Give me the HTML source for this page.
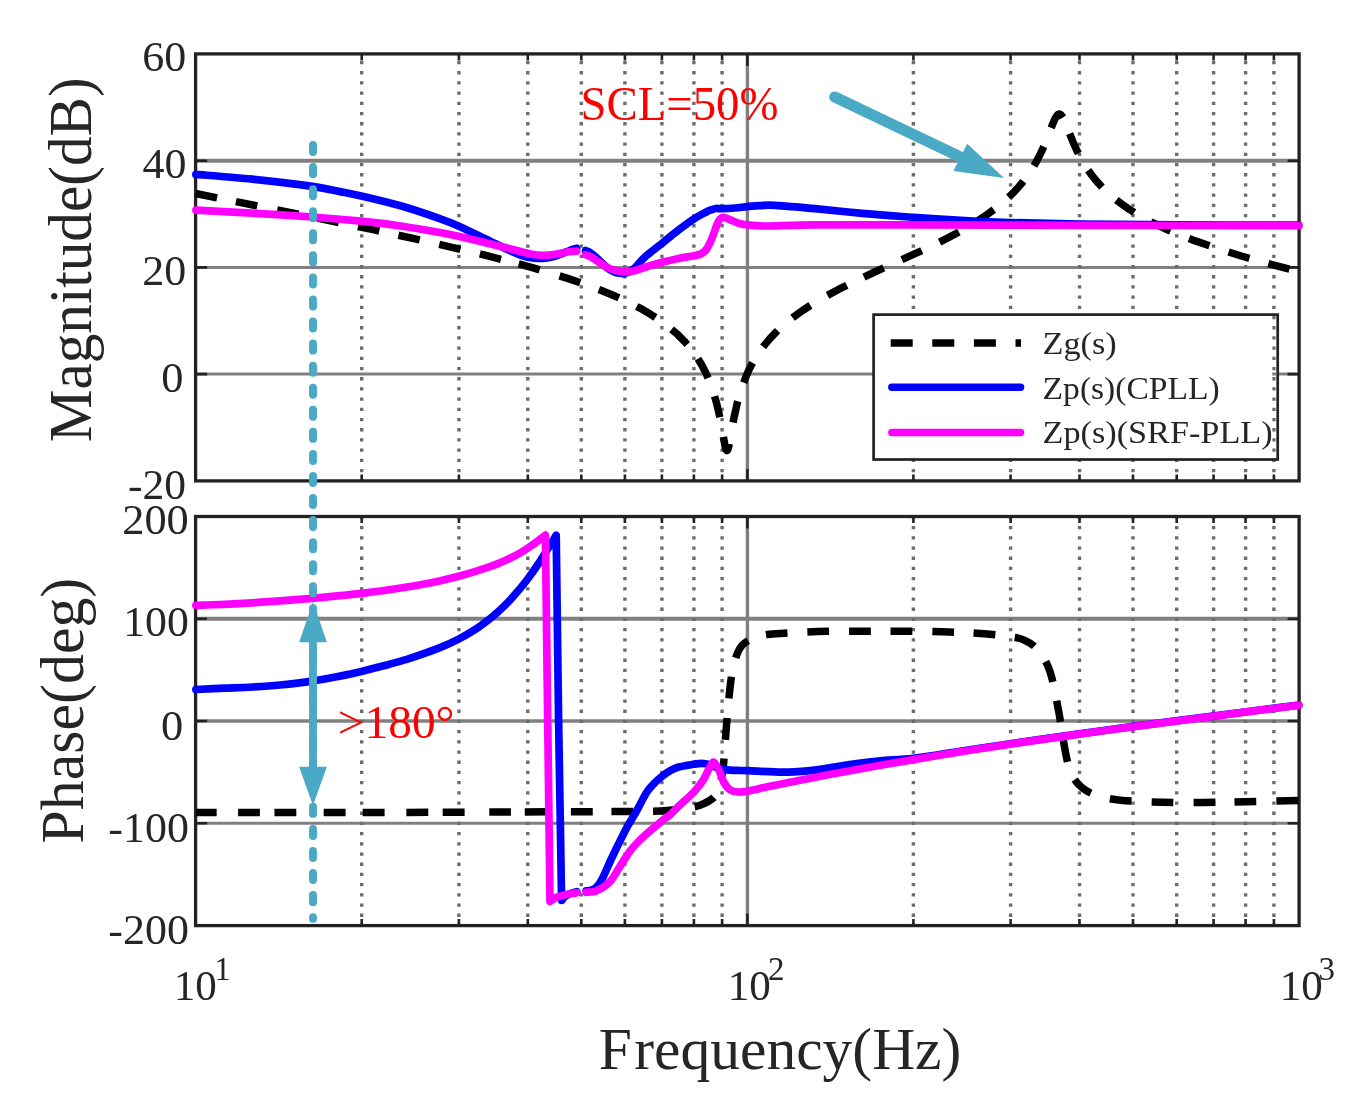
<!DOCTYPE html>
<html lang="en"><head><meta charset="utf-8"><title>Bode plot</title>
<style>html,body{margin:0;padding:0;background:#fff}svg{display:block}</style></head>
<body>
<svg width="1362" height="1109" viewBox="0 0 1362 1109" font-family="'Liberation Serif', serif">
<rect width="1362" height="1109" fill="#fff"/>
<line x1="195.6" y1="160.7" x2="1299.1" y2="160.7" stroke="#808080" stroke-width="3.9"/>
<line x1="195.6" y1="267.4" x2="1299.1" y2="267.4" stroke="#808080" stroke-width="3.0"/>
<line x1="195.6" y1="374.1" x2="1299.1" y2="374.1" stroke="#808080" stroke-width="3.0"/>
<line x1="747.4" y1="53.9" x2="747.4" y2="480.9" stroke="#808080" stroke-width="3.4"/>
<path d="M361.7 53.9V480.9M458.9 53.9V480.9M527.8 53.9V480.9M581.3 53.9V480.9M624.9 53.9V480.9M661.9 53.9V480.9M693.9 53.9V480.9M722.1 53.9V480.9M913.4 53.9V480.9M1010.6 53.9V480.9M1079.5 53.9V480.9M1133 53.9V480.9M1176.7 53.9V480.9M1213.6 53.9V480.9M1245.6 53.9V480.9M1273.9 53.9V480.9" stroke="#6c6c6c" stroke-width="3.4" stroke-dasharray="3.3 6.9" stroke-dashoffset="-7" fill="none"/>
<line x1="195.6" y1="618.8" x2="1299.1" y2="618.8" stroke="#808080" stroke-width="3.9"/>
<line x1="195.6" y1="721" x2="1299.1" y2="721" stroke="#808080" stroke-width="3.5"/>
<line x1="195.6" y1="823.3" x2="1299.1" y2="823.3" stroke="#808080" stroke-width="2.9"/>
<line x1="747.4" y1="516.5" x2="747.4" y2="925.6" stroke="#808080" stroke-width="3.4"/>
<path d="M361.7 516.5V925.6M458.9 516.5V925.6M527.8 516.5V925.6M581.3 516.5V925.6M624.9 516.5V925.6M661.9 516.5V925.6M693.9 516.5V925.6M722.1 516.5V925.6M913.4 516.5V925.6M1010.6 516.5V925.6M1079.5 516.5V925.6M1133 516.5V925.6M1176.7 516.5V925.6M1213.6 516.5V925.6M1245.6 516.5V925.6M1273.9 516.5V925.6" stroke="#6c6c6c" stroke-width="3.4" stroke-dasharray="3.3 6.9" stroke-dashoffset="-9.5" fill="none"/>
<rect x="195.6" y="53.9" width="1103.5" height="427" fill="none" stroke="#222222" stroke-width="3.3"/>
<path d="M361.7 53.9v6.5M361.7 480.9v-6.5M458.9 53.9v6.5M458.9 480.9v-6.5M527.8 53.9v6.5M527.8 480.9v-6.5M581.3 53.9v6.5M581.3 480.9v-6.5M624.9 53.9v6.5M624.9 480.9v-6.5M661.9 53.9v6.5M661.9 480.9v-6.5M693.9 53.9v6.5M693.9 480.9v-6.5M722.1 53.9v6.5M722.1 480.9v-6.5M913.4 53.9v6.5M913.4 480.9v-6.5M1010.6 53.9v6.5M1010.6 480.9v-6.5M1079.5 53.9v6.5M1079.5 480.9v-6.5M1133 53.9v6.5M1133 480.9v-6.5M1176.7 53.9v6.5M1176.7 480.9v-6.5M1213.6 53.9v6.5M1213.6 480.9v-6.5M1245.6 53.9v6.5M1245.6 480.9v-6.5M1273.9 53.9v6.5M1273.9 480.9v-6.5" stroke="#222222" stroke-width="2.6" fill="none"/>
<path d="M747.4 53.9v12M747.4 480.9v-12M195.6 160.7h11.5M1299.1 160.7h-11.5M195.6 267.4h11.5M1299.1 267.4h-11.5M195.6 374.1h11.5M1299.1 374.1h-11.5" stroke="#222222" stroke-width="2.6" fill="none"/>
<rect x="195.6" y="516.5" width="1103.5" height="409.1" fill="none" stroke="#222222" stroke-width="3.3"/>
<path d="M361.7 516.5v6.5M361.7 925.6v-6.5M458.9 516.5v6.5M458.9 925.6v-6.5M527.8 516.5v6.5M527.8 925.6v-6.5M581.3 516.5v6.5M581.3 925.6v-6.5M624.9 516.5v6.5M624.9 925.6v-6.5M661.9 516.5v6.5M661.9 925.6v-6.5M693.9 516.5v6.5M693.9 925.6v-6.5M722.1 516.5v6.5M722.1 925.6v-6.5M913.4 516.5v6.5M913.4 925.6v-6.5M1010.6 516.5v6.5M1010.6 925.6v-6.5M1079.5 516.5v6.5M1079.5 925.6v-6.5M1133 516.5v6.5M1133 925.6v-6.5M1176.7 516.5v6.5M1176.7 925.6v-6.5M1213.6 516.5v6.5M1213.6 925.6v-6.5M1245.6 516.5v6.5M1245.6 925.6v-6.5M1273.9 516.5v6.5M1273.9 925.6v-6.5" stroke="#222222" stroke-width="2.6" fill="none"/>
<path d="M747.4 516.5v12M747.4 925.6v-12M195.6 618.8h11.5M1299.1 618.8h-11.5M195.6 721h11.5M1299.1 721h-11.5M195.6 823.3h11.5M1299.1 823.3h-11.5" stroke="#222222" stroke-width="2.6" fill="none"/>
<g fill="none" stroke-linejoin="round">
<path d="M195.6 193.5 L295.9 213.6 L373.1 229.7 L435.9 243.5 L463.1 249.9 L487.9 255.9 L511.1 261.9 L532.4 267.7 L551.9 273.5 L569.9 279.2 L586.4 284.8 L601.4 290.5 L615.4 296.3 L628.1 302.1 L639.9 308.1 L650.6 314.3 L660.4 320.7 L669.1 327.2 L677.1 334 L684.4 341.3 L690.9 348.8 L696.9 357.1 L701.9 365.3 L706.1 373.5 L709.9 382.3 L713.4 392.2 L716.4 402.5 L718.9 413 L720.9 422.9 L725.1 446.3 L726.1 449.7 L726.9 450.6 L727.4 450.4 L727.9 449.4 L728.9 445.7 L733.9 418.1 L737.4 402.5 L741.1 389.6 L745.4 378 L748.1 371.7 L751.1 365.6 L754.4 359.8 L757.9 354.2 L761.6 348.8 L765.9 343.3 L770.1 338.3 L774.9 333.3 L779.6 328.7 L784.9 324 L790.4 319.5 L796.4 314.9 L802.6 310.5 L809.4 306 L824.1 297.2 L838.9 289.2 L855.9 280.8 L873.6 272.5 L921.9 250.6 L936.1 243.8 L948.4 237.6 L961.9 230.4 L974.1 223.2 L985.1 216 L995.1 208.7 L1005.4 200.2 L1010.1 195.8 L1014.6 191.3 L1018.6 186.9 L1022.6 182.2 L1026.3 177.3 L1029.8 172.3 L1033.1 167.3 L1036.1 162.2 L1041.6 151.4 L1045.8 141.7 L1052.8 123.8 L1055.1 118.6 L1057.1 115.4 L1058.1 114.4 L1058.8 114.1 L1059.8 114.1 L1060.8 114.7 L1061.8 115.9 L1063.1 117.9 L1065.6 123.4 L1073.1 142.2 L1077.6 152.1 L1080.6 157.8 L1083.8 163.5 L1087.3 169 L1090.8 173.9 L1094.8 179 L1098.8 183.7 L1103.1 188.2 L1107.8 192.7 L1112.6 196.9 L1117.8 201.1 L1123.3 205.2 L1129.3 209.3 L1136.1 213.6 L1143.1 217.6 L1150.6 221.6 L1158.6 225.6 L1167.1 229.5 L1175.8 233.3 L1195.3 240.9 L1217.1 248.4 L1241.3 256 L1268.6 263.7 L1299.1 271.6" stroke="#000" stroke-width="7.5" stroke-dasharray="21.9 19.2 21.8 20.3 21.8 19.3 21.8 19.6 21.8 19.6 21.8 20 21.8 19.9 21.8 18.3 21.8 20.8 21.8 19.8 21.8 19.7 21.8 20 21.8 17.9 21.8 19.3 21.8 19.8 21.8 21.6 21.8 19.5 21.8 19.1 21.8 19.7 21.8 19.8 21.8 19 21.8 19.9 21.8 19.8 21.8 19.7 21.8 19.3 21.8 18.7 21.8 19.9 21.8 17.4 21.8 19.4 21.8 19.3 21.8 19.1 21.8 19.8 21.8 20 21.8 19.7 21.8 5000"/>
<path d="M196 812.6C230 812.6 332.7 812.6 400 812.4C467.3 812.2 556.7 811.8 600 811.6C643.3 811.4 644.3 811.8 660 811C675.7 810.2 686.8 808.1 694.3 806.8C701.8 805.5 701.8 804.5 705 803C708.2 801.5 711.5 799.8 713.8 797.5C716.1 795.2 717.6 792.8 719 789C720.4 785.2 721.2 779.5 722 775C722.8 770.5 723 769.9 723.7 762.3C724.4 754.6 725.2 741.5 726.2 729.1C727.2 716.7 728.8 698.4 730 687.9C731.2 677.4 731.9 672.6 733.5 666C735.1 659.4 737.1 652.6 739.9 648.2C742.6 643.8 746.3 641.6 750 639.5C753.7 637.4 757.6 636.5 762 635.5C766.4 634.5 767.1 634.4 776.4 633.7C785.7 633 803.9 631.9 817.8 631.5C831.6 631.1 845.6 631.2 859.5 631.2C873.4 631.2 887.1 631.1 901 631.2C914.9 631.3 929 631.4 942.8 631.8C956.6 632.2 972.8 632.9 984 633.7C995.2 634.5 1003.2 635.4 1010 636.5C1016.8 637.6 1020.1 638.1 1024.8 640.4C1029.5 642.6 1033.8 644.9 1038 650C1042.2 655.1 1046.5 661.1 1049.9 671.2C1053.3 681.4 1056 697.6 1058.6 710.9C1061.1 724.2 1063.1 740.4 1065.2 750.8C1067.3 761.1 1068.3 766.9 1071 773C1073.7 779.1 1077.3 783.5 1081.6 787.3C1085.9 791 1090.5 793.4 1097 795.5C1103.5 797.6 1109.6 799.1 1120.4 800.2C1131.2 801.3 1148.1 801.9 1162 802.3C1175.9 802.7 1190.2 802.6 1204 802.5C1217.8 802.4 1229.2 802.1 1245 801.8C1260.8 801.5 1290 800.8 1299 800.6" stroke="#000" stroke-width="7.5" stroke-dasharray="20.8 21.4 21.8 14.7 21.8 27.3 21.8 16.9 21.8 22.2 21.8 14.5 21.8 24.5 21.8 13.7 21.8 24.5 21.8 18.6 21.8 20 21.8 20 21.8 19.1 21.8 18.7 21.8 19.6 21.8 19.4 21.8 18.9 21.8 19.7 21.8 19.9 21.8 19.7 21.8 20 21.8 19.4 21.8 19.7 21.8 19.1 21.8 18.9 21.8 18.6 21.8 19.1 21.8 19.7 21.8 19.9 21.8 20.2 21.8 19.2 21.8 20 21.8 5000"/>
<path d="M195.9 174.4C205.3 175.2 233 177.2 252.4 179.2C271.8 181.2 297.7 184.3 312.3 186.4C326.9 188.5 331.8 190 340 191.6C348.2 193.2 350.9 193.6 361.3 196C371.7 198.4 389.1 202.5 402.2 206.3C415.3 210.1 430.3 215.3 439.7 218.6C449.1 221.9 450.1 222.3 458.4 226C466.7 229.7 480.3 236.5 489.7 241C499.1 245.5 508.4 250.1 514.7 252.8C521 255.5 523 256.3 527.7 257.2C532.4 258.1 538.4 258.5 542.9 258.4C547.4 258.2 551 257.4 555 256.3C559 255.2 564 252.8 567 251.6C570 250.4 571.4 249.8 573 249.2C574.6 248.6 576 248.5 576.6 248.3" stroke="#0000ff" stroke-width="7.7" stroke-linecap="round"/>
<path d="M585.6 250.6C586.4 251 588.2 251.3 590.5 252.9C592.8 254.5 596.4 257.7 599.3 260.3C602.2 262.9 605.8 266.7 608.1 268.6C610.5 270.5 611.7 270.8 613.4 271.5C615.1 272.2 616.5 272.8 618.5 273.1C620.5 273.4 622.7 274 625.4 273.2C628.1 272.4 631.4 270.9 634.5 268.3C637.6 265.7 639.7 261.8 644.3 257.6C648.9 253.5 656.3 247.9 661.9 243.4C667.5 238.9 672.4 234.7 677.7 230.6C683 226.5 689.1 222 693.9 218.9C698.7 215.8 703.3 213.6 706.3 212C709.3 210.4 710.4 210.2 712 209.6C713.6 209 714.2 208.7 715.9 208.5C717.6 208.3 719.1 208.8 722.3 208.7C725.5 208.6 730.8 208.3 735 208C739.2 207.7 743.2 207 747.4 206.6C751.6 206.2 755.4 205.8 760 205.6C764.6 205.4 765.9 204.8 775 205.3C784.1 205.8 799.9 207.2 814.9 208.6C829.9 210 848.4 212.1 864.8 213.6C881.2 215.1 896.9 216.1 913.5 217.3C930.1 218.5 948.6 219.7 964.7 220.6C980.8 221.5 991.1 222 1010.3 222.6C1029.5 223.2 1051.7 223.6 1080 224C1108.3 224.4 1143.5 224.6 1180 224.8C1216.5 225 1279 225.1 1298.8 225.2" stroke="#0000ff" stroke-width="7.7" stroke-linecap="round"/>
<path d="M195.9 689.5C200.8 689.3 215.6 688.6 225 688.2C234.4 687.8 243.2 687.5 252.4 687C261.6 686.5 270 686 280 685C290 684 302.3 682.6 312.3 681.1C322.3 679.6 331.8 677.7 340 676.1C348.2 674.5 353.2 673.4 361.4 671.4C369.5 669.4 380.6 666.6 388.9 664.4C397.2 662.1 402.9 660.6 411.3 657.9C419.7 655.1 431.5 651 439.4 647.9C447.3 644.8 452.6 642.2 458.6 639.1C464.6 636 470.3 632.7 475.5 629.3C480.7 625.9 485.8 621.9 489.9 618.7C494 615.5 497.1 612.6 500 610C502.9 607.4 504.7 605.6 507.1 603.1C509.5 600.6 511.1 599.1 514.5 595.1C517.9 591.1 523.5 584.5 527.5 579.2C531.5 573.9 535.1 568.7 538.6 563.5C542.1 558.3 545.6 552.5 548.5 547.8C551.4 543.1 554.9 537.3 556.2 535.2 L558.6 720 L561.6 900.5 L561.6 900.5C562.2 899.8 563.6 897.6 565 896.5C566.4 895.4 567.9 894.5 569.9 893.7C571.9 892.9 575.6 892 576.8 891.6" stroke="#0000ff" stroke-width="7.7" stroke-linecap="round"/>
<path d="M586.2 890.8C586.8 890.7 588.4 890.9 590 890.4C591.6 889.9 594 889.5 596.1 887.5C598.2 885.5 599.8 883.3 602.4 878.5C605 873.7 607.7 866.5 611.5 858.5C615.3 850.5 622.3 836.4 625.4 830.3C628.5 824.2 628.2 825.1 630 822C631.8 818.9 633.5 816.5 636.3 811.5C639.1 806.5 643.9 796.7 646.9 792C649.9 787.3 651.7 786 654.2 783.4C656.7 780.8 658.4 779 661.8 776.5C665.2 774 669.4 770.3 674.8 768.3C680.1 766.2 688.8 765 693.9 764.2C699 763.5 700.9 762.9 705.6 763.8C710.4 764.6 717.3 768.2 722.4 769.3C727.5 770.4 732.2 770.2 736.4 770.4C740.6 770.6 740 770.4 747.7 770.7C755.4 771 771.6 772.2 782.4 772.2C793.2 772.2 804.4 771.1 812.3 770.4C820.2 769.7 823.8 768.8 830 767.8C836.2 766.8 841.5 765.8 849.8 764.6C858.1 763.4 869.4 761.8 880 760.8C890.6 759.8 900.1 760 913.4 758.4C926.7 756.8 943.9 753.8 960 751.3C976.1 748.8 990.4 746.6 1010.3 743.7C1030.2 740.8 1058.8 736.8 1079.3 733.9C1099.8 731 1111.3 729.4 1133.6 726.4C1155.9 723.4 1192.1 718.8 1213.2 716.1C1234.3 713.4 1245.7 711.8 1260 710C1274.3 708.2 1292.3 705.9 1298.8 705.1" stroke="#0000ff" stroke-width="7.7" stroke-linecap="round"/>
<path d="M195.9 210.1C205.3 210.6 233 212 252.4 213.2C271.8 214.3 294.2 215.7 312.3 217C330.4 218.3 346.3 219.7 361.3 221.2C376.3 222.7 389.1 224.3 402.2 226.2C415.3 228.1 430.3 230.8 439.7 232.5C449.1 234.2 450.1 234.3 458.4 236.2C466.7 238.1 480.3 241.4 489.7 243.7C499.1 246 507.9 248.3 514.7 250C521.5 251.7 525.9 253.1 530.6 254C535.3 254.9 538.8 255.3 542.9 255.4C547 255.5 551.1 255 555.2 254.4C559.3 253.8 564 252.4 567.6 251.9C571.2 251.4 575.1 251.3 576.6 251.2" stroke="#ff00ff" stroke-width="7.7" stroke-linecap="round"/>
<path d="M585.6 254.6C586.4 254.9 588.2 255.3 590.5 256.6C592.8 257.9 596.4 260.5 599.3 262.4C602.2 264.3 605.2 266.5 608.1 267.9C611 269.3 614 270 616.9 270.7C619.8 271.4 622.5 271.9 625.4 271.9C628.3 271.9 630.9 271.7 634.5 270.8C638.1 269.9 642.3 268.1 646.9 266.7C651.5 265.3 656.7 263.7 662 262.3C667.3 260.9 673.3 259.5 678.6 258.4C683.9 257.3 690.1 256.6 693.9 255.8C697.7 255 699.4 254.9 701.5 253.7C703.6 252.5 705 251.3 706.8 248.7C708.6 246.1 710.5 241.9 712.1 238.1C713.7 234.3 715.2 229 716.5 225.8C717.8 222.6 718.8 220.5 720 219.1C721.2 217.7 721.9 217.3 723.5 217.4C725.1 217.5 727.2 218.6 729.7 219.6C732.2 220.6 735.6 222.3 738.5 223.2C741.4 224.1 742.9 224.4 747.3 224.9C751.7 225.4 753.7 226 765 226C776.3 226 790.1 225 814.9 224.8C839.6 224.6 869.3 224.7 913.5 224.8C957.7 224.9 1015.8 225.2 1080 225.3C1144.2 225.5 1262.3 225.6 1298.8 225.7" stroke="#ff00ff" stroke-width="7.7" stroke-linecap="round"/>
<path d="M195.9 605.4C200.8 605.2 215.6 604.7 225 604.3C234.4 603.9 243.2 603.4 252.4 602.8C261.6 602.2 270 601.6 280 600.9C290 600.1 302.3 599.2 312.3 598.3C322.3 597.4 331.8 596.5 340 595.7C348.2 594.9 353.2 594.4 361.4 593.4C369.5 592.4 379.5 591.2 388.9 589.8C398.3 588.4 409.3 586.7 417.7 585.2C426.1 583.7 432.6 582.4 439.4 580.9C446.2 579.4 452.6 577.9 458.6 576.3C464.6 574.7 470.3 573 475.5 571.4C480.7 569.8 485.8 568.1 489.9 566.7C494 565.3 496.6 564.2 500 562.8C503.4 561.4 506.7 559.9 510 558.3C513.3 556.7 516.7 555 520 553C523.3 551 526.9 548.7 530 546.6C533.1 544.5 536 542.2 538.6 540.3C541.2 538.4 544.3 536.1 545.4 535.2 L547.7 720 L550 901.5 L550 901.5C550.8 900.9 553 899 555 898C557 897 559.2 896.5 561.7 895.8C564.2 895.1 567.5 894.3 570 893.8C572.5 893.3 575.7 893 576.8 892.8" stroke="#ff00ff" stroke-width="7.7" stroke-linecap="round"/>
<path d="M586.2 892.3C587.2 892.2 590.4 892 592 891.8C593.6 891.6 594.2 891.8 596.1 891C598 890.2 601 888.9 603.4 887.2C605.8 885.5 608.3 883.7 610.8 880.7C613.2 877.8 615.7 873.3 618.1 869.5C620.5 865.7 623.4 861 625.4 858C627.4 855 628.1 853.7 630 851.2C631.9 848.7 634.4 845.8 637 843C639.6 840.2 641.6 838.3 645.8 834.6C649.9 830.9 657.9 824.3 661.9 821C665.9 817.7 667.2 817.3 670 814.8C672.8 812.3 674.9 809.8 678.9 806C682.9 802.2 689.8 796.4 693.9 792C698 787.6 700.9 783.7 703.5 779.6C706.1 775.5 708 770.2 709.7 767.3C711.4 764.4 712.2 761.6 713.8 762.1C715.3 762.6 717.3 767 719 770.4C720.7 773.8 722.2 779.5 724.1 782.7C726 786 727.9 788.4 730.3 789.9C732.7 791.4 735.6 791.8 738.5 792C741.4 792.2 744.1 791.7 747.7 791.1C751.3 790.5 751.3 790.2 760 788.4C768.7 786.6 785 783.2 800 780.3C815 777.4 831.1 774.2 850 770.8C868.9 767.3 895.1 762.8 913.4 759.6C931.7 756.5 943.9 754.5 960 751.9C976.1 749.3 990.4 747.1 1010.3 744.1C1030.2 741.1 1058.8 737 1079.3 734.1C1099.8 731.2 1111.3 729.6 1133.6 726.6C1155.9 723.6 1192.1 719 1213.2 716.2C1234.3 713.5 1245.7 711.9 1260 710.1C1274.3 708.3 1292.3 706 1298.8 705.2" stroke="#ff00ff" stroke-width="7.7" stroke-linecap="round"/>
</g>
<rect x="873.6" y="314.6" width="398.6" height="144.9" fill="#fff"/>
<rect x="1276" y="314.6" width="1.7" height="144.9" fill="#fff"/>
<rect x="873.6" y="314.6" width="404.1" height="144.9" fill="none" stroke="#222222" stroke-width="2.7"/>
<path d="M890.7 343H1021" stroke="#000" stroke-width="7.6" stroke-dasharray="22 19.6" fill="none"/>
<path d="M891.8 387.2H1020.6" stroke="#0000ff" stroke-width="7.4" stroke-linecap="round" fill="none"/>
<path d="M891.8 432.5H1020.6" stroke="#ff00ff" stroke-width="7.4" stroke-linecap="round" fill="none"/>
<path d="M313 145V918.9" stroke="#4aa9c4" stroke-width="7.9" stroke-linecap="round" stroke-dasharray="7.1 14.96" fill="none"/>
<path d="M313 640V770" stroke="#4aa9c4" stroke-width="7.8" fill="none"/>
<path d="M313 602L326.9 642.2H299.1Z M313 805.5L326.9 766.8H299.1Z" fill="#4aa9c4"/>
<path d="M834.8 97L962 157.8" stroke="#4aa9c4" stroke-width="11.2" stroke-linecap="round" fill="none"/>
<path d="M1004.1 177.9L953.4 171.1L967.2 143.7Z" fill="#4aa9c4"/>
<text transform="translate(142.2 70.6) scale(1.03 1)" font-size="42.7" fill="#262626">60</text>
<text transform="translate(142.4 177.7) scale(1.03 1)" font-size="42.7" fill="#262626">40</text>
<text transform="translate(142.2 284.7) scale(1.03 1)" font-size="42.7" fill="#262626">20</text>
<text transform="translate(161.2 391.8) scale(1.04 1)" font-size="42.7" fill="#262626">0</text>
<text transform="translate(127.9 498.9) scale(1.02 1)" font-size="42.7" fill="#262626">-20</text>
<text transform="translate(122.2 534) scale(1.04 1)" font-size="42.7" fill="#262626">200</text>
<text transform="translate(123.2 636) scale(1.025 1)" font-size="42.7" fill="#262626">100</text>
<text transform="translate(161 739.8) scale(1.04 1)" font-size="42.7" fill="#262626">0</text>
<text transform="translate(108.3 842.3) scale(1.03 1)" font-size="42.7" fill="#262626">-100</text>
<text transform="translate(108.3 944.2) scale(1.03 1)" font-size="42.7" fill="#262626">-200</text>
<text x="173.8" y="1000" font-size="43" fill="#262626">10<tspan x="214.2" y="980" font-size="33">1</tspan></text>
<text x="727.8" y="1000" font-size="43" fill="#262626">10<tspan x="768.1" y="980" font-size="33">2</tspan></text>
<text x="1279.8" y="1000" font-size="43" fill="#262626">10<tspan x="1318.6" y="980" font-size="33">3</tspan></text>
<text x="598.7" y="1069" dx="0 2.5" font-size="59.5" fill="#262626">Frequency(Hz)</text>
<text transform="translate(91 442.2) rotate(-90) scale(1 1.03)" font-size="59.2" fill="#262626">Magnitude(dB)</text>
<text transform="translate(82.9 843.4) rotate(-90) scale(1 1.03)" font-size="59.8" fill="#262626">Phase(deg)</text>
<text transform="translate(580.5 120.2) scale(0.975 1)" font-size="48" fill="#ff0000">SCL=50%</text>
<text transform="translate(337.8 737.6) scale(1.03 1)" font-size="46" fill="#ff0000">&gt;180°</text>
<text transform="translate(1042.6 353.8) scale(1.05 1)" font-size="32.6" fill="#262626">Zg(s)</text>
<text transform="translate(1042.6 398.8) scale(1.03 1)" font-size="32.6" fill="#262626">Zp(s)(CPLL)</text>
<text transform="translate(1042.6 443.3) scale(1.05 1)" font-size="32.6" fill="#262626">Zp(s)(SRF-PLL)</text>
</svg>
</body></html>
